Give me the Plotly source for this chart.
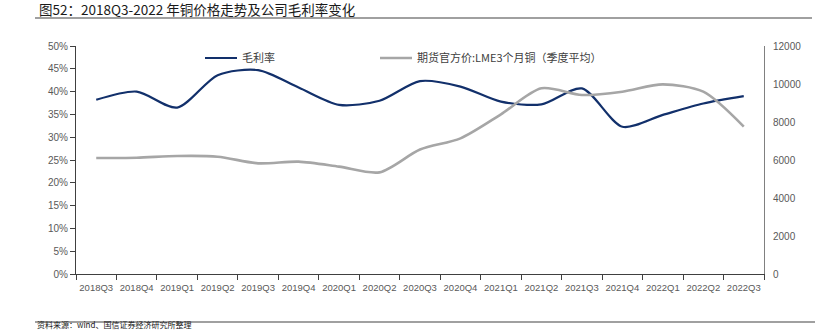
import plotly.graph_objects as go

quarters = ["2018Q3", "2018Q4", "2019Q1", "2019Q2", "2019Q3", "2019Q4", "2020Q1", "2020Q2",
            "2020Q3", "2020Q4", "2021Q1", "2021Q2", "2021Q3", "2021Q4", "2022Q1", "2022Q2", "2022Q3"]
gross_margin = [0.382, 0.400, 0.365, 0.436, 0.447, 0.409, 0.371, 0.380,
                0.423, 0.411, 0.378, 0.372, 0.407, 0.323, 0.349, 0.374, 0.390]
copper_price = [6105, 6121, 6210, 6175, 5825, 5912, 5650, 5350,
                6550, 7140, 8404, 9772, 9421, 9596, 9982, 9596, 7754]

font_fam = "'Noto Sans CJK SC', 'Liberation Sans', sans-serif"
tick_font = dict(family="'Liberation Sans', Arial, sans-serif", size=10, color="#595959")
xtick_font = dict(family="'Liberation Sans', Arial, sans-serif", size=9.5, color="#595959")
legend_font = dict(family=font_fam, size=11, color="#404040")

fig = go.Figure()
fig.add_trace(go.Scatter(x=quarters, y=gross_margin, name="毛利率", mode="lines", legend="legend",
                         line=dict(color="#12306b", width=2.2, shape="spline", smoothing=0.8)))
fig.add_trace(go.Scatter(x=quarters, y=copper_price, name="期货官方价:LME3个月铜（季度平均）",
                         mode="lines", yaxis="y2", legend="legend2",
                         line=dict(color="#a6a6a6", width=2.6, shape="spline", smoothing=0.8)))

fig.update_layout(
    width=821, height=332,
    margin=dict(l=76, r=57, t=46, b=58),
    paper_bgcolor="white", plot_bgcolor="white",
    showlegend=True,
    legend=dict(orientation="h", x=(200 - 76) / 688, y=1 - (58 - 46) / 228, xanchor="left",
                yanchor="middle", font=legend_font, bgcolor="rgba(0,0,0,0)", itemwidth=32),
    legend2=dict(orientation="h", x=(375 - 76) / 688, y=1 - (58 - 46) / 228, xanchor="left",
                 yanchor="middle", font=legend_font, bgcolor="rgba(0,0,0,0)", itemwidth=32),
    xaxis=dict(type="category", range=[-0.5, 16.5], showline=True, linecolor="#404040",
               linewidth=1, ticks="outside", tickson="boundaries", ticklen=5, tickangle=0,
               tickcolor="#404040", tickfont=xtick_font, showgrid=False, zeroline=False,
               ticklabelstandoff=5),
    yaxis=dict(range=[0, 0.5], dtick=0.05, tickformat=".0%", showline=True,
               linecolor="#404040", linewidth=1, ticks="outside", ticklen=5,
               tickcolor="#404040", tickfont=tick_font, showgrid=False, zeroline=False),
    yaxis2=dict(range=[0, 12000], dtick=2000, tickformat="d", overlaying="y", side="right",
                showline=True, linecolor="#808080", linewidth=1, ticks="", tickfont=tick_font,
                showgrid=False, zeroline=False, ticklabelstandoff=6),
    font=dict(family=font_fam),
)

fig.add_annotation(text="图52：2018Q3-2022 年铜价格走势及公司毛利率变化", xref="paper", yref="paper",
                   x=(37 - 76) / 688, y=1 + (46 - 9) / 228, xanchor="left", yanchor="middle",
                   showarrow=False, font=dict(family=font_fam, size=13.5, color="#1a1a1a"))
fig.add_shape(type="line", xref="paper", yref="paper", x0=(35 - 76) / 688, x1=(812 - 76) / 688,
              y0=1 + (46 - 18) / 228, y1=1 + (46 - 18) / 228, line=dict(color="#808080", width=1.5))
fig.add_shape(type="line", xref="paper", yref="paper", x0=(35 - 76) / 688, x1=(815 - 76) / 688,
              y0=-(322 - 274) / 228, y1=-(322 - 274) / 228, line=dict(color="#808080", width=1.5))
fig.add_annotation(text="资料来源：wind、国信证券经济研究所整理", xref="paper", yref="paper",
                   x=(35 - 76) / 688, y=-(332 - 274) / 228, xanchor="left", yanchor="bottom",
                   showarrow=False, font=dict(family=font_fam, size=8, color="#1a1a1a"))

fig.write_html("out.html")
